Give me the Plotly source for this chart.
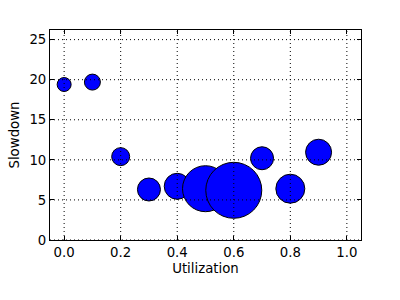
import plotly.graph_objects as go

utilization = [0.0, 0.1, 0.2, 0.3, 0.4, 0.5, 0.6, 0.7, 0.8, 0.9]
slowdown = [19.4, 19.7, 10.4, 6.3, 6.7, 6.4, 6.2, 10.2, 6.4, 10.95]
bubble_size = [14, 16, 18, 23, 26, 46, 56, 23, 29, 26]

x_ticks = [0.0, 0.2, 0.4, 0.6, 0.8, 1.0]
y_ticks = [0, 5, 10, 15, 20, 25]

FONT = dict(family="DejaVu Sans", size=13.3, color="black")

fig = go.Figure()
fig.add_trace(go.Scatter(
    x=utilization, y=slowdown, mode="markers",
    marker=dict(size=bubble_size, color="#0000ff", opacity=1,
                line=dict(color="black", width=1)),
    showlegend=False, hoverinfo="skip",
))

shapes = []
for xv in x_ticks:
    shapes.append(dict(type="line", xref="x", yref="paper", x0=xv, x1=xv, y0=0, y1=1,
                       line=dict(color="black", width=1, dash="1px,3px"), layer="above"))
for yv in y_ticks:
    shapes.append(dict(type="line", xref="paper", yref="y", x0=0, x1=1, y0=yv, y1=yv,
                       line=dict(color="black", width=1, dash="1px,3px"), layer="above"))

axis_common = dict(
    showline=True, linecolor="black", linewidth=1, mirror="allticks",
    ticks="inside", ticklen=4, tickwidth=1, tickcolor="black",
    showgrid=False, zeroline=False, tickfont=FONT, layer="above traces",
)

fig.update_layout(
    width=400, height=300,
    margin=dict(l=50, r=39, t=30, b=60, pad=0),
    paper_bgcolor="white", plot_bgcolor="white",
    font=FONT,
    shapes=shapes,
    xaxis=dict(range=[-0.05, 1.05], tickvals=x_ticks,
               ticktext=[f"{v:.1f}" for v in x_ticks],
               title=dict(text="Utilization", font=FONT, standoff=4),
               **axis_common),
    yaxis=dict(range=[0, 26.2], tickvals=y_ticks,
               ticktext=[str(v) for v in y_ticks],
               title=dict(text="Slowdown", font=FONT, standoff=6),
               **axis_common),
)

fig.write_html("out.html")
